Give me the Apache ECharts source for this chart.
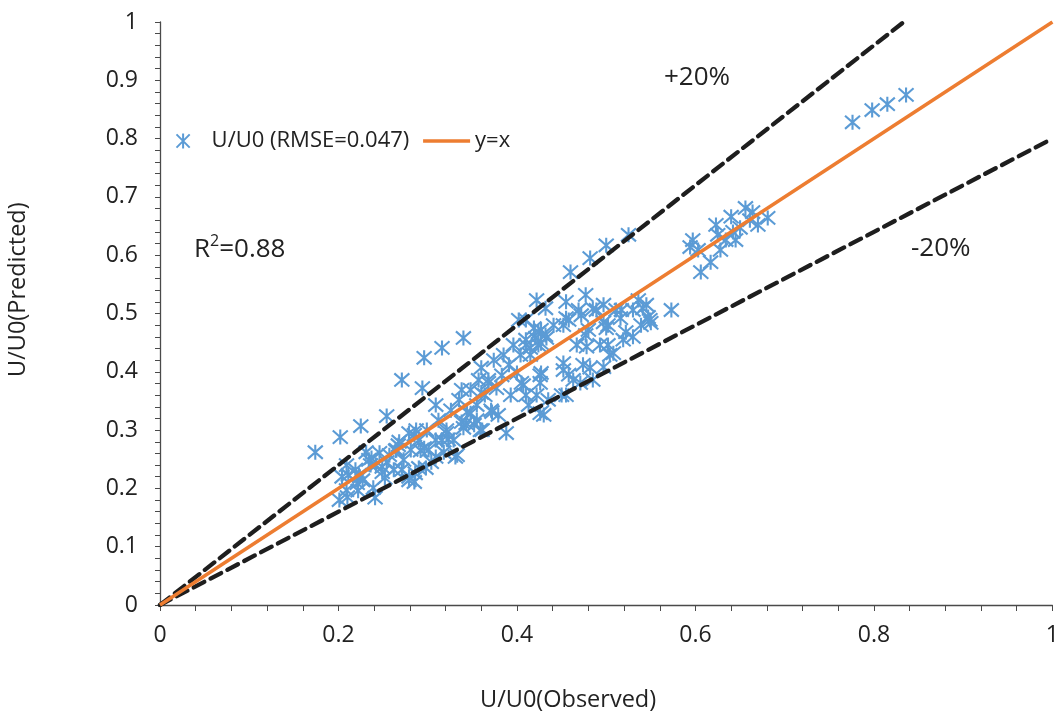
<!DOCTYPE html>
<html>
<head>
<meta charset="utf-8">
<script src="https://cdn.jsdelivr.net/npm/echarts@6/dist/echarts.min.js"></script>
<style>
html,body{margin:0;padding:0;background:#fff;}
#chart{width:1062px;height:717px;}
</style>
</head>
<body>
<div id="chart"></div>
<script>
// ---- data ----
var observed = [
0.174,0.202,0.225,0.254,0.271,0.296,0.316,0.340,0.294,
0.201,0.210,0.209,0.211,0.219,0.227,0.234,0.239,0.241,0.246,0.236,0.222,0.224,0.249,0.252,0.257,0.262,0.264,0.267,0.273,0.279,0.281,0.285,0.286,0.290,0.292,0.296,0.299,0.304,0.309,0.309,0.312,0.318,0.321,0.323,0.326,0.329,0.333,0.335,0.338,0.340,0.344,0.348,0.352,0.355,0.357,0.360,0.361,0.364,0.368,0.371,0.374,0.377,0.379,0.383,0.385,0.388,0.391,0.393,0.396,0.400,0.402,0.404,0.407,0.410,0.413,0.415,0.419,0.422,0.424,0.426,0.430,0.427,0.433,0.432,0.435,0.422,0.441,
0.309,0.338,0.231,0.237,0.242,0.209,0.204,0.221,0.223,0.249,0.254,0.265,0.268,0.279,0.287,0.290,0.271,0.279,0.285,0.301,0.298,0.316,0.321,0.331,0.343,0.348,0.355,0.359,0.372,0.360,0.368,
0.452,0.455,0.458,0.460,0.463,0.467,0.469,0.474,0.477,0.480,0.482,0.485,0.489,0.493,0.497,0.500,0.502,0.504,0.511,0.516,0.519,0.525,0.530,0.536,0.539,0.545,0.549,0.573,
0.455,0.485,0.472,0.455,0.452,0.410,0.517,0.541,0.547,0.550,0.500,0.497,0.522,0.530,0.477,0.478,0.502,0.508,0.424,0.432,0.421,0.410,0.415,0.427,0.452,0.458,0.482,0.497,0.427,0.426,0.450,0.471,0.405,0.410,0.426,
0.597,0.603,0.606,0.617,0.623,0.625,0.628,0.634,0.640,0.645,0.650,0.656,0.661,0.664,0.670,0.681,0.642,0.594,
0.776,0.798,0.815,0.836
];
var predicted = [
0.262,0.288,0.307,0.324,0.386,0.424,0.441,0.458,0.372,
0.180,0.185,0.197,0.223,0.232,0.214,0.249,0.201,0.184,0.261,0.240,0.196,0.220,0.237,0.218,0.257,0.232,0.265,0.274,0.249,0.214,0.266,0.292,0.226,0.235,0.265,0.269,0.300,0.245,0.283,0.254,0.317,0.262,0.300,0.284,0.334,0.283,0.257,0.352,0.314,0.304,0.331,0.369,0.309,0.343,0.386,0.407,0.300,0.360,0.386,0.334,0.420,0.372,0.326,0.394,0.429,0.295,0.412,0.360,0.446,0.398,0.489,0.429,0.377,0.455,0.343,0.429,0.475,0.360,0.446,0.394,0.326,0.472,0.458,0.509,0.352,0.523,0.480,
0.343,0.369,0.262,0.252,0.240,0.240,0.220,0.209,0.223,0.228,0.245,0.266,0.280,0.295,0.300,0.283,0.232,0.220,0.211,0.266,0.235,0.283,0.295,0.254,0.312,0.329,0.317,0.300,0.331,0.364,0.381,
0.403,0.360,0.489,0.571,0.386,0.446,0.506,0.412,0.532,0.472,0.595,0.386,0.506,0.446,0.515,0.617,0.480,0.429,0.506,0.492,0.455,0.635,0.506,0.523,0.480,0.515,0.489,0.506,
0.520,0.508,0.497,0.492,0.480,0.489,0.506,0.509,0.494,0.484,0.475,0.485,0.468,0.460,0.463,0.443,0.446,0.432,0.468,0.463,0.458,0.446,0.441,0.449,0.415,0.395,0.407,0.408,0.398,0.381,0.360,0.381,0.381,0.360,0.329,
0.626,0.609,0.571,0.588,0.652,0.635,0.609,0.626,0.666,0.626,0.647,0.681,0.660,0.674,0.652,0.664,0.640,0.614,
0.828,0.849,0.859,0.875
];
var xTicks = [0, 0.2, 0.4, 0.6, 0.8, 1];
var yTicks = [0, 0.1, 0.2, 0.3, 0.4, 0.5, 0.6, 0.7, 0.8, 0.9, 1];
var upperFactor = 1.2;   // +20%
var lowerFactor = 0.8;   // -20%
var scatterName = 'U/U0 (RMSE=0.047)';
var lineName = 'y=x';
var r2Text = '0.88';

// ---- build ----
var pts = observed.map(function (x, i) { return [x, predicted[i]]; });
var identity = [[0, 0], [1, 1]];
var upper = [[0, 0], [1 / upperFactor, 1]];
var lower = [[0, 0], [1, lowerFactor]];

var FONT = 'Open Sans';
var chart = echarts.init(document.getElementById('chart'), null, {renderer: 'canvas'});
var star = 'path://M5,0 L5,10 M0.6,0.6 L9.4,9.4 M0.6,9.4 L9.4,0.6';
var dashStyle = {color: '#1e1e1e', width: 4.3, type: [12, 7], cap: 'round'};
var axisColor = '#4a4a4a';

chart.setOption({
  animation: false,
  backgroundColor: '#fff',
  textStyle: {fontFamily: FONT},
  grid: {left: 160, right: 6, top: 22, bottom: 112, containLabel: false},
  legend: {
    left: 169, top: 125,
    itemWidth: 47, itemHeight: 15, itemGap: 12,
    textStyle: {fontFamily: FONT, fontSize: 22, color: '#222'},
    data: [scatterName, {name: lineName, itemStyle: {opacity: 0}, lineStyle: {width: 3.5, color: '#ED7D31'}}]
  },
  xAxis: {
    type: 'value', min: 0, max: 1, interval: 0.2,
    axisLine: {show: true, lineStyle: {color: axisColor, width: 1.3}},
    axisTick: {show: true, length: 6, lineStyle: {color: axisColor}},
    minorTick: {show: true, splitNumber: 5, length: 6, lineStyle: {color: axisColor}},
    splitLine: {show: false},
    axisLabel: {fontSize: 23, color: '#222', margin: 19, fontFamily: FONT,
      formatter: function (v) { var r = Math.round(v * 10) / 10; return xTicks.indexOf(r) >= 0 ? String(r) : ''; }}
  },
  yAxis: {
    type: 'value', min: 0, max: 1, interval: 0.1,
    axisLine: {show: true, lineStyle: {color: axisColor, width: 1.3}},
    axisTick: {show: true, length: 5, lineStyle: {color: axisColor}},
    minorTick: {show: true, splitNumber: 5, length: 5, lineStyle: {color: axisColor}},
    splitLine: {show: false},
    axisLabel: {fontSize: 23, color: '#222', margin: 22, fontFamily: FONT,
      formatter: function (v) { var r = Math.round(v * 10) / 10; return yTicks.indexOf(r) >= 0 ? String(r) : ''; }}
  },
  graphic: [
    {type: 'text', left: 480, top: 688, style: {text: 'U/U0(Observed)', font: '23.5px "Open Sans"', fill: '#222'}},
    {type: 'text', x: 6, y: 377, rotation: Math.PI / 2, style: {text: 'U/U0(Predicted)', font: '23.5px "Open Sans"', fill: '#222'}},
    {type: 'text', left: 664, top: 65, style: {text: '+20%', font: '26px "Open Sans"', fill: '#222'}},
    {type: 'text', left: 911, top: 236, style: {text: '-20%', font: '26px "Open Sans"', fill: '#222'}},
    {type: 'text', left: 194, top: 233, style: {
      text: '{n|R}{s|2}{n|=' + r2Text + '}',
      rich: {n: {fontSize: 26, fontFamily: FONT, fill: '#222', color: '#222', verticalAlign: 'bottom'},
             s: {fontSize: 16, fontFamily: FONT, fill: '#222', color: '#222', verticalAlign: 'top', padding: [0, 0, 14, 0]}}
    }}
  ],
  series: [
    {
      name: scatterName, type: 'scatter', data: pts, z: 2,
      symbol: star, symbolSize: 15,
      itemStyle: {color: 'none', borderColor: '#5B9BD5', borderWidth: 2.1, opacity: 1}
    },
    {
      name: lineName, type: 'line', data: identity, z: 4,
      symbol: 'none', lineStyle: {color: '#ED7D31', width: 3.5}, itemStyle: {color: '#ED7D31'}
    },
    {name: '+20%', type: 'line', data: upper, z: 3, symbol: 'none', lineStyle: dashStyle, silent: true},
    {name: '-20%', type: 'line', data: lower, z: 3, symbol: 'none', lineStyle: dashStyle, silent: true}
  ]
});
</script>
</body>
</html>
